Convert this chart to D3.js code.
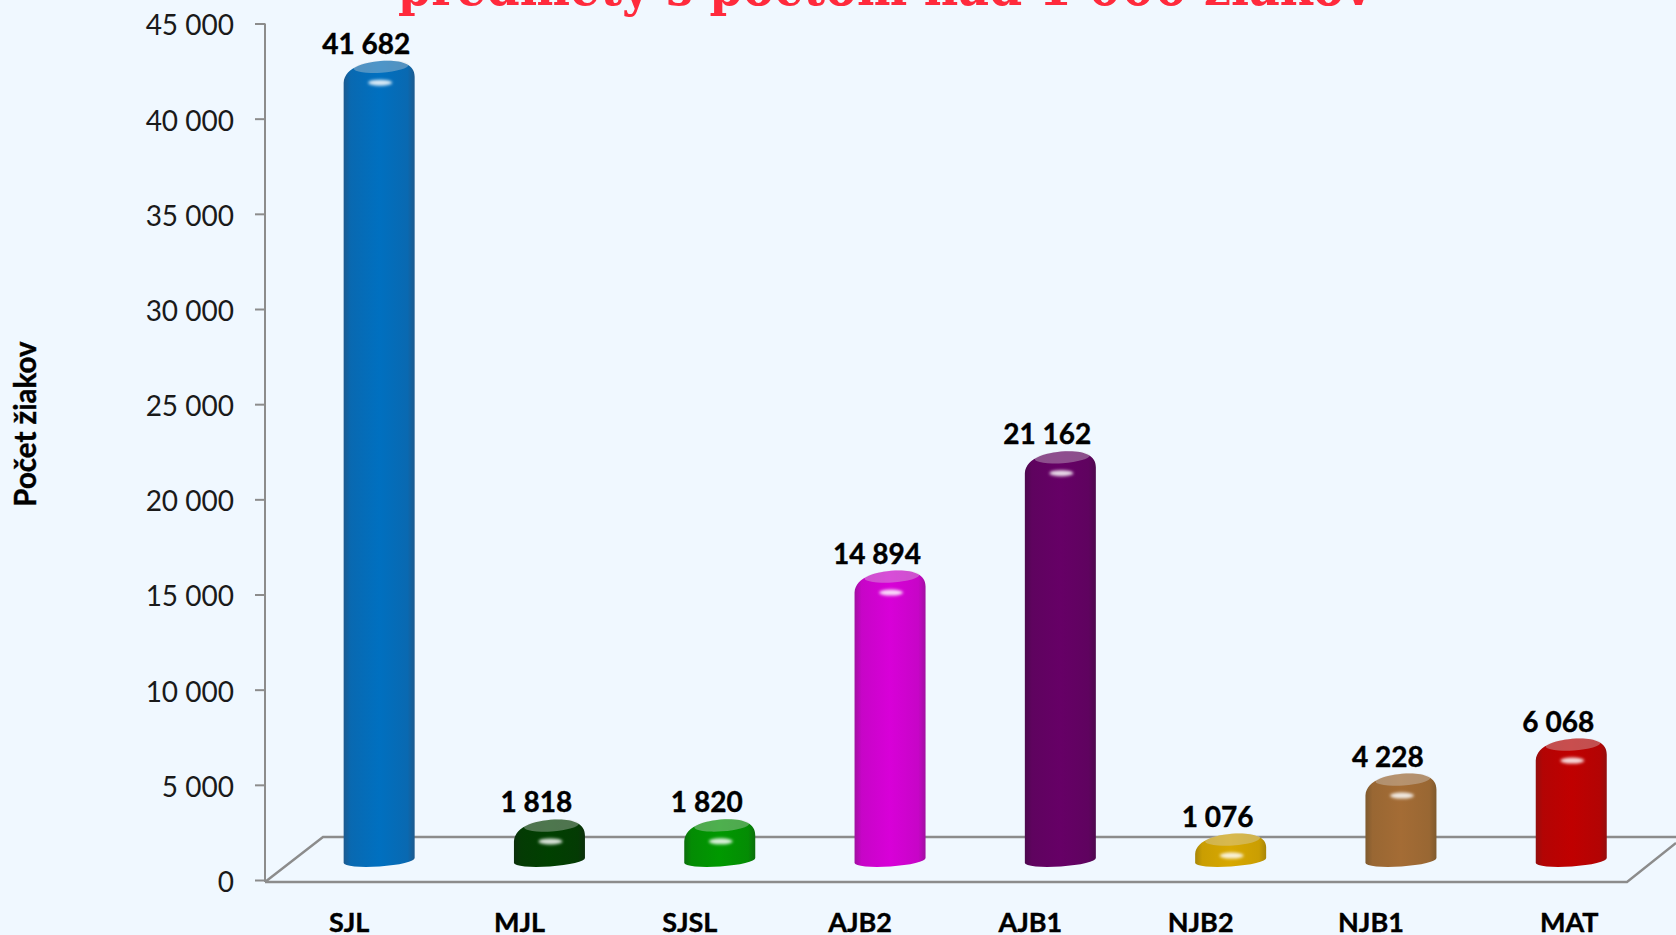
<!DOCTYPE html>
<html><head><meta charset="utf-8">
<script src="https://cdnjs.cloudflare.com/ajax/libs/d3/7.8.5/d3.min.js"></script>
<style>html,body{margin:0;padding:0;background:#f0f8ff;overflow:hidden}svg{display:block}</style>
</head><body><svg id="c" width="1676" height="935"></svg>
<script>
const categories = ["SJL","MJL","SJSL","AJB2","AJB1","NJB2","NJB1","MAT"];
const values = [41682,1818,1820,14894,21162,1076,4228,6068];
const valueLabels = ["41 682","1 818","1 820","14 894","21 162","1 076","4 228","6 068"];
const mainColors = ["#0070c0","#004000","#009900","#d800d8","#660066","#d8a800","#a46c35","#c00000"];
const edgeColors = ["#1d5a8e","#0c2f0c","#0c6e0c","#a010a0","#4d094d","#a88608","#7f5a2e","#940e0e"];
const yTicks = [0,5000,10000,15000,20000,25000,30000,35000,40000,45000];
const titleText = "predmety s počtom nad 1 000 žiakov";
const axisTitle = "Počet žiakov";

const W=1676,H=935;
const svg=d3.select("#c");
svg.append("rect").attr("width",W).attr("height",H).attr("fill","#f0f8ff");
const font="Lato, 'Open Sans', sans-serif";
const y=d3.scaleLinear().domain([0,45000]).range([880,23.5]);
const x=d3.scaleBand().domain(categories).range([294,1656.4]);
const defs=svg.append("defs");
defs.append("filter").attr("id","glow").attr("x","-50%").attr("y","-100%").attr("width","200%").attr("height","300%")
  .append("feGaussianBlur").attr("stdDeviation",1.8);

svg.append("text").text(titleText).attr("x",398).attr("y",5)
  .attr("textLength",974).attr("lengthAdjust","spacingAndGlyphs")
  .attr("font-family","'DejaVu Serif',serif").attr("font-weight",700).attr("font-size",52).attr("fill","#ff2a3c");

const axisColor="#8c8c8c";
const floor=svg.append("g").attr("fill","none").attr("stroke",axisColor).attr("stroke-width",2.4);
floor.append("path").attr("d",`M265,${y(0)+2}L323,837H${W}`);
floor.append("path").attr("d",`M265,${y(0)+2}H1627L${W},843`);

const yAxis=d3.axisLeft(y).tickValues(yTicks).tickSize(10).tickPadding(21)
  .tickFormat(d=>d3.format(",")(d).replace(",", " "));
const ag=svg.append("g").attr("transform","translate(265,0)").call(yAxis);
ag.selectAll("path,line").attr("stroke",axisColor).attr("stroke-width",2);
ag.select(".domain").attr("d",`M0,${y(45000)}V${y(0)+2}`);
ag.selectAll("text").attr("font-family",font).attr("font-size",28).attr("fill","#1a1a1a").attr("dy","0.41em");

svg.append("text").text(axisTitle).attr("transform","translate(36,424) rotate(-90)").attr("text-anchor","middle")
  .attr("font-family",font).attr("font-weight",700).attr("font-size",29.5).attr("fill","#000")
  .attr("stroke","#000").attr("stroke-width",0.4);

const half=35.5, tilt=-4;
const bars=svg.append("g").selectAll("g").data(categories).join("g");
bars.each(function(c,i){
  const g=d3.select(this), cx=x(c)+x.bandwidth()/2, v=values[i];
  const top=y(v)-26, base=y(0)-13;
  const id="grad"+i;
  const gr=defs.append("linearGradient").attr("id",id);
  const mid=d3.interpolateRgb(edgeColors[i],mainColors[i])(0.7);
  gr.append("stop").attr("offset","0").attr("stop-color",edgeColors[i]);
  gr.append("stop").attr("offset","0.1").attr("stop-color",mid);
  gr.append("stop").attr("offset","0.5").attr("stop-color",mainColors[i]);
  gr.append("stop").attr("offset","0.9").attr("stop-color",mid);
  gr.append("stop").attr("offset","1").attr("stop-color",edgeColors[i]);
  const l=cx-half,r=cx+half;
  const sl=Math.min(top+22,base-13), sr=Math.min(top+16,base-20);
  g.append("path").attr("fill",`url(#${id})`).attr("d",
    `M${l},${base-4}A${half} 6 ${tilt} 0 0 ${r},${base-9}`+
    `V${sr}C${r},${top+4} ${cx+24},${top} ${cx+9},${top}C${cx-12},${top} ${l+1},${top+6} ${l},${sl}Z`);
  g.append("ellipse").attr("cx",cx+2).attr("cy",top+6).attr("rx",half-8).attr("ry",6)
    .attr("transform",`rotate(${tilt} ${cx+2} ${top+6})`)
    .attr("fill","#d8d8d8").attr("opacity",0.36);
  g.append("ellipse").attr("cx",cx+1).attr("cy",top+22).attr("rx",12).attr("ry",3)
    .attr("fill",d3.interpolateRgb(mainColors[i],"#fff")(0.85)).attr("filter","url(#glow)");
  g.append("text").text(valueLabels[i]).attr("x",cx-13).attr("y",top-7).attr("text-anchor","middle")
    .attr("font-family",font).attr("font-weight",700).attr("font-size",28).attr("fill","#000")
    .attr("stroke","#000").attr("stroke-width",0.4);
  g.append("text").text(c).attr("x",i===7?cx-2:cx-30).attr("y",931.5).attr("text-anchor","middle")
    .attr("font-family",font).attr("font-weight",700).attr("font-size",27).attr("fill","#000")
    .attr("stroke","#000").attr("stroke-width",0.4);
});
</script></body></html>
